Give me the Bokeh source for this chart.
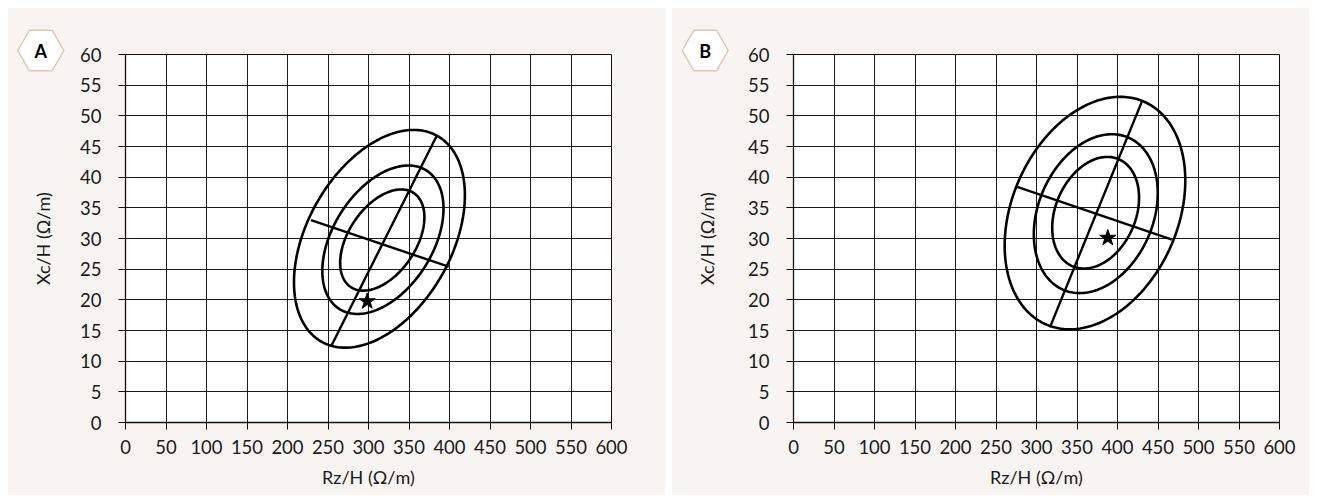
import numpy as np
from bokeh.plotting import figure
from bokeh.layouts import row
from bokeh.models import Range1d, FixedTicker
from bokeh.core.properties import value
from bokeh.embed import file_html
from bokeh.resources import INLINE

# ---- data ----
x_ticks = list(range(0, 601, 50))
y_ticks = list(range(0, 61, 5))
x_title = "Rz/H (Ω/m)"
y_title = "Xc/H (Ω/m)"
panel_names = ["A", "B"]

# ellipses (outer, middle, inner): centre, half extents, correlation-like tilt
a_cx = [313.5, 317.8, 317.0]
a_cy = [29.95, 29.8, 29.75]
a_sx = [105.5, 74.8, 52.0]
a_sy = [17.75, 12.1, 8.25]
a_r = [0.40, 0.42, 0.45]

b_cx = [372.2, 373.2, 373.0]
b_cy = [34.15, 34.05, 34.2]
b_sx = [111.5, 76.5, 53.6]
b_sy = [18.95, 12.95, 9.1]
b_r = [0.28, 0.26, 0.27]

# axis lines of the ellipses: [x0, x1], [y0, y1]
a_major_x = [254.5, 384.4]
a_major_y = [12.6, 46.8]
a_minor_x = [229.0, 399.0]
a_minor_y = [33.0, 25.4]
b_major_x = [317.3, 430.3]
b_major_y = [15.75, 52.4]
b_minor_x = [276.2, 467.3]
b_minor_y = [38.4, 29.8]

# star points
a_star = (298.4, 19.75)
b_star = (388.0, 30.1)

BG = "#f7f4f1"
FONT = "Lato"
H = 487
STRIP_W = 62


def ellipse(cx, cy, sx, sy, r, n=240):
    t = np.linspace(0, 2 * np.pi, n)
    x = cx + sx * np.cos(t)
    y = cy + sy * (r * np.cos(t) + np.sqrt(1 - r * r) * np.sin(t))
    return x, y


def make_strip(name, hex_cx):
    # left margin strip of a panel: hexagon badge and the y-axis title
    s = figure(width=STRIP_W, height=H, x_range=Range1d(0, STRIP_W), y_range=Range1d(0, H),
               output_backend="svg", toolbar_location=None,
               x_axis_location=None, y_axis_location=None,
               min_border=0, min_border_left=0, min_border_right=0,
               min_border_top=0, min_border_bottom=0)
    s.frame_align = False
    s.grid.visible = False
    s.background_fill_color = BG
    s.border_fill_color = BG
    s.outline_line_color = None
    hy = H - 42.0
    R = 23.0
    hh = 20.2
    xs = [hex_cx - R, hex_cx - R / 2, hex_cx + R / 2, hex_cx + R, hex_cx + R / 2, hex_cx - R / 2]
    ys = [hy, hy + hh, hy + hh, hy, hy - hh, hy - hh]
    s.patch(xs, ys, fill_color="white", line_color="#e2c6b0", line_width=1.5)
    s.text([hex_cx], [hy], text=[name], text_align="center", text_baseline="middle",
           text_font=value(FONT), text_font_size="18px", text_font_style="bold",
           text_color="black")
    s.text([34.5], [H - 230.0], text=[y_title], angle=np.pi / 2,
           text_align="center", text_baseline="middle",
           text_font=value(FONT), text_font_size="18px", text_color="#1a1a1a")
    return s


def make_panel(width, bl, br, cxs, cys, sxs, sys_, rs, mjx, mjy, mnx, mny, star):
    p = figure(width=width, height=H, x_range=Range1d(0, 600), y_range=Range1d(0, 60),
               output_backend="svg", toolbar_location=None,
               min_border_left=bl, min_border_right=br, min_border_top=46, min_border_bottom=73)
    p.frame_align = False
    p.background_fill_color = "white"
    p.border_fill_color = BG
    p.outline_line_color = "#111111"
    p.outline_line_width = 1

    for ax, ticks in ((p.xaxis[0], x_ticks), (p.yaxis[0], y_ticks)):
        ax.ticker = FixedTicker(ticks=ticks)
        ax.minor_tick_line_color = None
        ax.major_tick_out = 7
        ax.major_tick_in = 0
        ax.major_tick_line_color = "#111111"
        ax.axis_line_color = "#111111"
        ax.axis_line_width = 1.3
        ax.major_label_text_font = FONT
        ax.major_label_text_font_size = "18.5px"
        ax.major_label_text_color = "#1a1a1a"
    p.xaxis.axis_label = x_title
    p.xaxis.axis_label_text_font = FONT
    p.xaxis.axis_label_text_font_size = "18px"
    p.xaxis.axis_label_text_font_style = "normal"
    p.xaxis.axis_label_text_color = "#1a1a1a"
    p.xaxis.major_label_standoff = 10
    p.xaxis.axis_label_standoff = 9
    p.yaxis.major_label_standoff = 17

    for g in p.grid:
        g.grid_line_color = "#1a1a1a"
        g.grid_line_width = 1
    p.xgrid.ticker = FixedTicker(ticks=x_ticks)
    p.ygrid.ticker = FixedTicker(ticks=y_ticks)

    for cx, cy, sx, sy, r in zip(cxs, cys, sxs, sys_, rs):
        ex, ey = ellipse(cx, cy, sx, sy, r)
        p.line(ex, ey, line_color="black", line_width=2.6)
    p.line(mjx, mjy, line_color="black", line_width=2.4)
    p.line(mnx, mny, line_color="black", line_width=2.4)
    p.scatter([star[0]], [star[1]], marker="star", size=17, color="black")
    return p


sA = make_strip(panel_names[0], 32.3)
pA = make_panel(657 - STRIP_W, 125 - 8 - STRIP_W, 54, a_cx, a_cy, a_sx, a_sy, a_r,
                a_major_x, a_major_y, a_minor_x, a_minor_y, a_star)
sB = make_strip(panel_names[1], 32.7)
pB = make_panel(637 - STRIP_W, 793 - 672 - STRIP_W, 30, b_cx, b_cy, b_sx, b_sy, b_r,
                b_major_x, b_major_y, b_minor_x, b_minor_y, b_star)

rowA = row(sA, pA, spacing=0, styles={"background-color": BG})
rowB = row(sB, pB, spacing=0, styles={"background-color": BG})
layout = row(rowA, rowB, spacing=7, margin=(8, 0, 0, 8))
open("out.html", "w").write(file_html(layout, INLINE))
